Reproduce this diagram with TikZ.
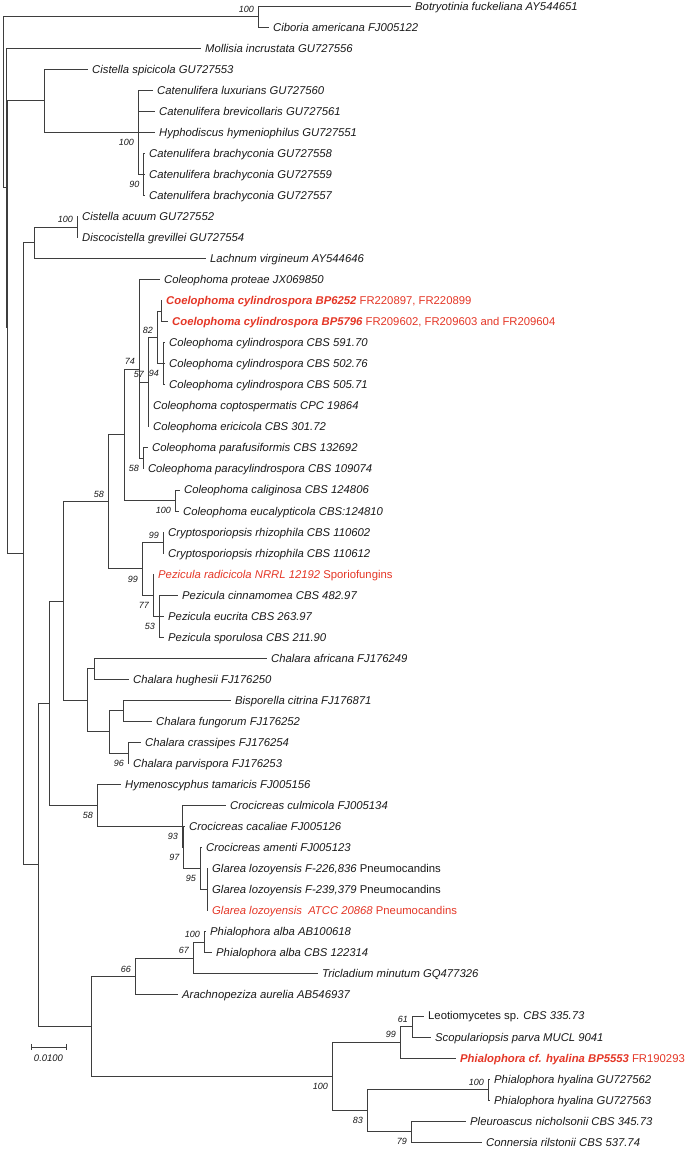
\documentclass[tikz,border=0pt]{standalone}
\usepackage{fontspec}
\setmainfont{Liberation Sans}
\definecolor{brc}{RGB}{62,62,62}
\definecolor{redt}{RGB}{228,54,38}
\definecolor{txt}{RGB}{25,25,25}
\begin{document}
\begin{tikzpicture}[x=1pt,y=-1pt,
  br/.style={draw=brc,line width=0.8pt},
  leaf/.style={anchor=west,inner xsep=4pt,inner ysep=0pt,text height=8.1pt,text depth=0pt,
    font=\fontsize{11.3}{13}\selectfont\itshape,text=txt},
  hl/.style={text=redt},
  bs/.style={anchor=east,inner sep=0pt,text height=6.4pt,text depth=0pt,
    font=\fontsize{9}{10}\selectfont\itshape,text=txt}]
\useasboundingbox (0,0) rectangle (685,1150);
% internal nodes
\coordinate (root) at (3,102.09);
\coordinate (nBC) at (258,16.52);
\coordinate (nB) at (6.5,187.66);
\coordinate (nC) at (7.5,327.23);
\coordinate (nCs) at (44,100.68);
\coordinate (nCat) at (138,132.24);
\coordinate (nBr) at (143.5,174.32);
\coordinate (nD) at (23,553.78);
\coordinate (nCa) at (34,242.7);
\coordinate (nAc) at (77,226.92);
\coordinate (nE) at (38,864.86);
\coordinate (nY) at (49,703.28);
\coordinate (nW) at (63,601.04);
\coordinate (nV) at (108,501.76);
\coordinate (nU) at (124,434.69);
\coordinate (nS) at (139,368.94);
\coordinate (nP) at (148,382.09);
\coordinate (nQ) at (157,337.38);
\coordinate (nBP) at (161,311.08);
\coordinate (nR) at (163,363.68);
\coordinate (nT) at (143,458.36);
\coordinate (nCal) at (175,500.44);
\coordinate (nPz) at (142,568.82);
\coordinate (nCry) at (163,542.52);
\coordinate (nPa) at (153,595.12);
\coordinate (nPb) at (159,616.16);
\coordinate (nX) at (87,700.32);
\coordinate (nAf) at (94,668.76);
\coordinate (nBB) at (109,731.88);
\coordinate (nBi) at (123,710.84);
\coordinate (nCr) at (128,752.92);
\coordinate (nZ) at (97,805.52);
\coordinate (n93) at (182,826.56);
\coordinate (n97) at (183.5,847.6);
\coordinate (n95) at (200,868.64);
\coordinate (nGl) at (207,889.68);
\coordinate (nF) at (91,1026.44);
\coordinate (nG) at (135,976.47);
\coordinate (nH) at (193,958.06);
\coordinate (nI) at (204,942.28);
\coordinate (nJ) at (332,1076.41);
\coordinate (nK) at (400,1042.22);
\coordinate (nL) at (412,1026.44);
\coordinate (nM) at (367,1110.6);
\coordinate (nN) at (488,1089.56);
\coordinate (nO) at (411,1131.64);
% leaves
\node[leaf] (l1) at (411,6) {Botryotinia fuckeliana AY544651};
\node[leaf] (l2) at (269,27.04) {Ciboria americana FJ005122};
\node[leaf] (l3) at (201,48.08) {Mollisia incrustata GU727556};
\node[leaf] (l4) at (88,69.12) {Cistella spicicola GU727553};
\node[leaf] (l5) at (153,90.16) {Catenulifera luxurians GU727560};
\node[leaf] (l6) at (155,111.2) {Catenulifera brevicollaris GU727561};
\node[leaf] (l7) at (155,132.24) {Hyphodiscus hymeniophilus GU727551};
\node[leaf] (l8) at (145,153.28) {Catenulifera brachyconia GU727558};
\node[leaf] (l9) at (145,174.32) {Catenulifera brachyconia GU727559};
\node[leaf] (l10) at (145,195.36) {Catenulifera brachyconia GU727557};
\node[leaf] (l11) at (78,216.4) {Cistella acuum GU727552};
\node[leaf] (l12) at (78,237.44) {Discocistella grevillei GU727554};
\node[leaf] (l13) at (206,258.48) {Lachnum virgineum AY544646};
\node[leaf] (l14) at (160,279.52) {Coleophoma proteae JX069850};
\node[leaf,hl] (l15) at (162,300.56) {\bfseries Coelophoma cylindrospora BP6252 \mdseries\upshape FR220897, FR220899};
\node[leaf,hl] (l16) at (168,321.6) {\bfseries Coelophoma cylindrospora BP5796 \mdseries\upshape FR209602, FR209603 and FR209604};
\node[leaf] (l17) at (165,342.64) {Coleophoma cylindrospora CBS 591.70};
\node[leaf] (l18) at (165,363.68) {Coleophoma cylindrospora CBS 502.76};
\node[leaf] (l19) at (165,384.72) {Coleophoma cylindrospora CBS 505.71};
\node[leaf] (l20) at (149,405.76) {Coleophoma coptospermatis CPC 19864};
\node[leaf] (l21) at (149,426.8) {Coleophoma ericicola CBS 301.72};
\node[leaf] (l22) at (148,447.84) {Coleophoma parafusiformis CBS 132692};
\node[leaf] (l23) at (143.8,468.88) {Coleophoma paracylindrospora CBS 109074};
\node[leaf] (l24) at (180,489.92) {Coleophoma caliginosa CBS 124806};
\node[leaf] (l25) at (179,510.96) {Coleophoma eucalypticola CBS:124810};
\node[leaf] (l26) at (164,532) {Cryptosporiopsis rhizophila CBS 110602};
\node[leaf] (l27) at (164,553.04) {Cryptosporiopsis rhizophila CBS 110612};
\node[leaf,hl] (l28) at (154,574.08) {Pezicula radicicola NRRL 12192 \upshape Sporiofungins};
\node[leaf] (l29) at (178,595.12) {Pezicula cinnamomea CBS 482.97};
\node[leaf] (l30) at (164,616.16) {Pezicula eucrita CBS 263.97};
\node[leaf] (l31) at (164,637.2) {Pezicula sporulosa CBS 211.90};
\node[leaf] (l32) at (267,658.24) {Chalara africana FJ176249};
\node[leaf] (l33) at (129,679.28) {Chalara hughesii FJ176250};
\node[leaf] (l34) at (231,700.32) {Bisporella citrina FJ176871};
\node[leaf] (l35) at (152,721.36) {Chalara fungorum FJ176252};
\node[leaf] (l36) at (141,742.4) {Chalara crassipes FJ176254};
\node[leaf] (l37) at (129,763.44) {Chalara parvispora FJ176253};
\node[leaf] (l38) at (121,784.48) {Hymenoscyphus tamaricis FJ005156};
\node[leaf] (l39) at (226,805.52) {Crocicreas culmicola FJ005134};
\node[leaf] (l40) at (185,826.56) {Crocicreas cacaliae FJ005126};
\node[leaf] (l41) at (202,847.6) {Crocicreas amenti FJ005123};
\node[leaf] (l42) at (208,868.64) {Glarea lozoyensis F-226,836 \upshape Pneumocandins};
\node[leaf] (l43) at (208,889.68) {Glarea lozoyensis F-239,379 \upshape Pneumocandins};
\node[leaf,hl] (l44) at (208,910.72) {Glarea lozoyensis\ \ ATCC 20868 \upshape Pneumocandins};
\node[leaf] (l45) at (206,931.76) {Phialophora alba AB100618};
\node[leaf] (l46) at (212,952.8) {Phialophora alba CBS 122314};
\node[leaf] (l47) at (318,973.84) {Tricladium minutum GQ477326};
\node[leaf] (l48) at (178,994.88) {Arachnopeziza aurelia AB546937};
\node[leaf] (l49) at (424,1015.92) {\upshape Leotiomycetes sp. \itshape CBS 335.73};
\node[leaf] (l50) at (431,1036.96) {Scopulariopsis parva MUCL 9041};
\node[leaf,hl] (l51) at (456,1058) {\bfseries Phialophora cf. hyalina BP5553 \mdseries\upshape FR190293};
\node[leaf] (l52) at (490,1079.04) {Phialophora hyalina GU727562};
\node[leaf] (l53) at (490,1100.08) {Phialophora hyalina GU727563};
\node[leaf] (l54) at (466,1121.12) {Pleuroascus nicholsonii CBS 345.73};
\node[leaf] (l55) at (482,1142.16) {Connersia rilstonii CBS 537.74};
% branches
\draw[br] (root) |- (nBC); \draw[br] (root) |- (nB);
\draw[br] (nBC) |- (l1.west); \draw[br] (nBC) |- (l2.west);
\draw[br] (nB) |- (l3.west); \draw[br] (nB) |- (nC);
\draw[br] (nC) |- (nCs); \draw[br] (nC) |- (nD);
\draw[br] (nCs) |- (l4.west); \draw[br] (nCs) |- (nCat);
\draw[br] (nCat) |- (l5.west); \draw[br] (nCat) |- (l6.west);
\draw[br] (nCat) |- (l7.west); \draw[br] (nCat) |- (nBr);
\draw[br] (nBr) |- (l8.west); \draw[br] (nBr) |- (l9.west); \draw[br] (nBr) |- (l10.west);
\draw[br] (nD) |- (nCa); \draw[br] (nD) |- (nE);
\draw[br] (nCa) |- (nAc); \draw[br] (nCa) |- (l13.west);
\draw[br] (nAc) |- (l11.west); \draw[br] (nAc) |- (l12.west);
\draw[br] (nE) |- (nY); \draw[br] (nE) |- (nF);
\draw[br] (nY) |- (nW); \draw[br] (nY) |- (nZ);
\draw[br] (nW) |- (nV); \draw[br] (nW) |- (nX);
\draw[br] (nV) |- (nU); \draw[br] (nV) |- (nPz);
\draw[br] (nU) |- (nS); \draw[br] (nU) |- (nCal);
\draw[br] (nS) |- (l14.west); \draw[br] (nS) |- (nP); \draw[br] (nS) |- (nT);
\draw[br] (nP) |- (nQ); \draw[br] (nP) |- (l20.west); \draw[br] (nP) |- (l21.west);
\draw[br] (nQ) |- (nBP); \draw[br] (nQ) |- (nR);
\draw[br] (nBP) |- (l15.west); \draw[br] (nBP) |- (l16.west);
\draw[br] (nR) |- (l17.west); \draw[br] (nR) |- (l18.west); \draw[br] (nR) |- (l19.west);
\draw[br] (nT) |- (l22.west); \draw[br] (nT) |- (l23.west);
\draw[br] (nCal) |- (l24.west); \draw[br] (nCal) |- (l25.west);
\draw[br] (nPz) |- (nCry); \draw[br] (nPz) |- (nPa);
\draw[br] (nCry) |- (l26.west); \draw[br] (nCry) |- (l27.west);
\draw[br] (nPa) |- (l28.west); \draw[br] (nPa) |- (nPb);
\draw[br] (nPb) |- (l29.west); \draw[br] (nPb) |- (l30.west); \draw[br] (nPb) |- (l31.west);
\draw[br] (nX) |- (nAf); \draw[br] (nX) |- (nBB);
\draw[br] (nAf) |- (l32.west); \draw[br] (nAf) |- (l33.west);
\draw[br] (nBB) |- (nBi); \draw[br] (nBB) |- (nCr);
\draw[br] (nBi) |- (l34.west); \draw[br] (nBi) |- (l35.west);
\draw[br] (nCr) |- (l36.west); \draw[br] (nCr) |- (l37.west);
\draw[br] (nZ) |- (l38.west); \draw[br] (nZ) |- (n93);
\draw[br] (n93) |- (l39.west); \draw[br] (n93) |- (n97);
\draw[br] (n97) |- (l40.west); \draw[br] (n97) |- (n95);
\draw[br] (n95) |- (l41.west); \draw[br] (n95) |- (nGl);
\draw[br] (nGl) |- (l42.west); \draw[br] (nGl) |- (l43.west); \draw[br] (nGl) |- (l44.west);
\draw[br] (nF) |- (nG); \draw[br] (nF) |- (nJ);
\draw[br] (nG) |- (nH); \draw[br] (nG) |- (l48.west);
\draw[br] (nH) |- (nI); \draw[br] (nH) |- (l47.west);
\draw[br] (nI) |- (l45.west); \draw[br] (nI) |- (l46.west);
\draw[br] (nJ) |- (nK); \draw[br] (nJ) |- (nM);
\draw[br] (nK) |- (nL); \draw[br] (nK) |- (l51.west);
\draw[br] (nL) |- (l49.west); \draw[br] (nL) |- (l50.west);
\draw[br] (nM) |- (nN); \draw[br] (nM) |- (nO);
\draw[br] (nN) |- (l52.west); \draw[br] (nN) |- (l53.west);
\draw[br] (nO) |- (l54.west); \draw[br] (nO) |- (l55.west);
% bootstrap values (above)
\node[bs] (b1) at ([xshift=-4pt,yshift=7.5pt]nBC) {100};
\node[bs] (b2) at ([xshift=-4pt,yshift=7.5pt]nAc) {100};
\node[bs] (b3) at ([xshift=-4pt,yshift=7.5pt]nS) {74};
\node[bs] (b4) at ([xshift=-4pt,yshift=7.5pt]nP) {57};
\node[bs] (b5) at ([xshift=-4pt,yshift=7.5pt]nQ) {82};
\node[bs] (b6) at ([xshift=-4pt,yshift=7.5pt]nV) {58};
\node[bs] (b7) at ([xshift=-4pt,yshift=7.5pt]nCry) {99};
\node[bs] (b8) at ([xshift=-4pt,yshift=7.5pt]nI) {100};
\node[bs] (b9) at ([xshift=-4pt,yshift=7.5pt]nH) {67};
\node[bs] (b10) at ([xshift=-4pt,yshift=7.5pt]nG) {66};
\node[bs] (b11) at ([xshift=-4pt,yshift=7.5pt]nK) {99};
\node[bs] (b12) at ([xshift=-4pt,yshift=7.5pt]nL) {61};
\node[bs] (b13) at ([xshift=-4pt,yshift=7.5pt]nN) {100};
% bootstrap values (below)
\node[bs] (b14) at ([xshift=-4pt,yshift=-10pt]nCat) {100};
\node[bs] (b15) at ([xshift=-4pt,yshift=-10pt]nBr) {90};
\node[bs] (b16) at ([xshift=-4pt,yshift=-10pt]nR) {94};
\node[bs] (b17) at ([xshift=-4pt,yshift=-10pt]nT) {58};
\node[bs] (b18) at ([xshift=-4pt,yshift=-10pt]nCal) {100};
\node[bs] (b19) at ([xshift=-4pt,yshift=-10pt]nPz) {99};
\node[bs] (b20) at ([xshift=-4pt,yshift=-10pt]nPa) {77};
\node[bs] (b21) at ([xshift=-4pt,yshift=-10pt]nPb) {53};
\node[bs] (b22) at ([xshift=-4pt,yshift=-10pt]nCr) {96};
\node[bs] (b23) at ([xshift=-4pt,yshift=-10pt]nZ) {58};
\node[bs] (b24) at ([xshift=-4pt,yshift=-10pt]n93) {93};
\node[bs] (b25) at ([xshift=-4pt,yshift=-10pt]n97) {97};
\node[bs] (b26) at ([xshift=-4pt,yshift=-10pt]n95) {95};
\node[bs] (b27) at ([xshift=-4pt,yshift=-10pt]nJ) {100};
\node[bs] (b28) at ([xshift=-4pt,yshift=-10pt]nM) {83};
\node[bs] (b29) at ([xshift=-4pt,yshift=-10pt]nO) {79};
% scale bar
\coordinate (sb1) at (31,1047);
\coordinate (sb2) at (66,1047);
\draw[br] (sb1) -- (sb2);
\draw[br] ([yshift=3.2pt]sb1) -- ([yshift=-3.2pt]sb1);
\draw[br] ([yshift=3.2pt]sb2) -- ([yshift=-3.2pt]sb2);
\node[bs,anchor=center,font=\fontsize{9.5}{10}\selectfont\itshape] (sbl) at (48.5,1058.5) {0.0100};
\end{tikzpicture}
\end{document}
